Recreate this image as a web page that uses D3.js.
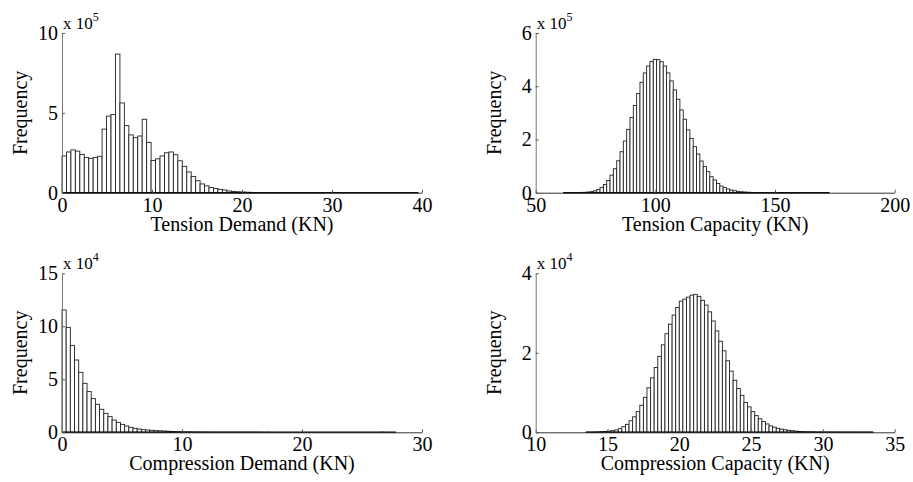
<!DOCTYPE html>
<html>
<head>
<meta charset="utf-8">
<script src="https://cdn.jsdelivr.net/npm/d3@7"></script>
</head>
<body style="margin:0">
<script>
// Tension demand: 80 bins from 0, counts in 1e5
var tdStart = 0, tdWidth = 0.495;
var tdCounts = [2.3, 2.55, 2.68, 2.6, 2.4, 2.2, 2.15, 2.2, 2.28, 3.98,
    4.8, 4.9, 8.68, 5.62, 4.2, 3.62, 3.45, 3.55, 4.6, 3.15,
    2.02, 2.12, 2.3, 2.5, 2.55, 2.38, 2.0, 1.65, 1.3, 1.02,
    0.75, 0.55, 0.43, 0.32, 0.26, 0.21, 0.17, 0.11, 0.08, 0.06,
    0.04, 0.03, 0.02, 0.015, 0.01, 0.008, 0.006, 0.005, 0.004, 0.003,
    0.002, 0.002, 0.001, 0.001, 0.001, 0.001, 0.001, 0, 0.001, 0,
    0, 0, 0, 0, 0, 0, 0, 0, 0, 0,
    0, 0, 0, 0, 0, 0, 0, 0, 0, 0];
var tdXTicks = [0, 10, 20, 30, 40];
var tdYTicks = [0, 5, 10];

// Tension capacity: counts in 1e5
var tcStart = 61.6, tcWidth = 1.39;
var tcCounts = [0.005, 0, 0.003, 0.005, 0.008, 0.01, 0.015, 0.025,
    0.04, 0.07, 0.12, 0.2, 0.31, 0.46, 0.66, 0.9, 1.2, 1.54, 1.94, 2.38, 2.83, 3.28, 3.73, 4.15,
    4.5, 4.76, 4.93, 5.01, 5.0, 4.92, 4.76, 4.5,
    4.2, 3.86, 3.51, 3.11, 2.76, 2.36, 2.04, 1.73, 1.45, 1.19, 0.98, 0.79, 0.6, 0.48,
    0.35, 0.25, 0.19, 0.14, 0.1, 0.075, 0.05, 0.035, 0.025, 0.018, 0.012, 0.008, 0.006, 0.004,
    0.003, 0.003, 0.002, 0.002, 0.001, 0.001, 0.001, 0.001, 0, 0.001,
    0, 0, 0, 0, 0, 0, 0, 0, 0.01, 0];
var tcXTicks = [50, 100, 150, 200];
var tcYTicks = [0, 2, 4, 6];

// Compression demand: counts in 1e4
var cdStart = 0, cdWidth = 0.348;
var cdCounts = [11.54, 9.9, 8.2, 6.82, 5.66, 4.62, 3.84, 3.18, 2.64, 2.17,
    1.79, 1.48, 1.16, 0.94, 0.75, 0.6, 0.47, 0.38, 0.31, 0.25,
    0.22, 0.19, 0.16, 0.14, 0.12, 0.1, 0.08, 0.06, 0.05, 0.04,
    0.03, 0.025, 0.02, 0.015, 0.01, 0.008, 0.006, 0.005, 0.004, 0.003,
    0.002, 0.002, 0.002, 0.001, 0.001, 0.001, 0.001, 0.001, 0, 0.001,
    0, 0, 0, 0, 0, 0, 0, 0, 0, 0,
    0, 0, 0, 0, 0, 0, 0, 0, 0, 0,
    0, 0, 0, 0, 0, 0, 0.005, 0, 0, 0];
var cdXTicks = [0, 10, 20, 30];
var cdYTicks = [0, 5, 10, 15];

// Compression capacity: counts in 1e4
var ccStart = 13.5, ccWidth = 0.25;
var ccCounts = [0.002, 0.003, 0.005, 0.01, 0.015, 0.02,
    0.03, 0.04, 0.06, 0.09, 0.14, 0.2, 0.29, 0.39, 0.52, 0.68,
    0.88, 1.12, 1.37, 1.63, 1.91, 2.2, 2.48, 2.72, 2.95, 3.14,
    3.3, 3.35, 3.4, 3.45,
    3.47, 3.42, 3.32, 3.2, 3.03, 2.8, 2.55, 2.29, 2.05, 1.8,
    1.54, 1.31, 1.1, 0.93, 0.75, 0.64, 0.52, 0.42, 0.34, 0.27,
    0.21, 0.16, 0.13, 0.1, 0.08, 0.063, 0.05, 0.04, 0.03, 0.02,
    0.015, 0.012, 0.01, 0.008, 0.006, 0.005, 0.004, 0.003, 0.003, 0.002,
    0.002, 0.002, 0.001, 0.001, 0.002, 0.001, 0.001, 0.001, 0.001, 0.001];
var ccXTicks = [10, 15, 20, 25, 30, 35];
var ccYTicks = [0, 2, 4];

var w = 913;
var h = 482;

var svg = d3.select("body")
    .append("svg")
    .attr("width", w)
    .attr("height", h)
    .style("display", "block");

// one histogram panel per block
drawHist({
    left: 62, right: 422, top: 33, bottom: 192.7,
    start: tdStart, width: tdWidth, counts: tdCounts,
    xTicks: tdXTicks, yTicks: tdYTicks, exp: "5",
    xLabel: "Tension Demand (KN)"
});
drawHist({
    left: 535.7, right: 894.7, top: 33, bottom: 192.7,
    start: tcStart, width: tcWidth, counts: tcCounts,
    xTicks: tcXTicks, yTicks: tcYTicks, exp: "5",
    xLabel: "Tension Capacity (KN)"
});
drawHist({
    left: 62, right: 422, top: 273.3, bottom: 432.3,
    start: cdStart, width: cdWidth, counts: cdCounts,
    xTicks: cdXTicks, yTicks: cdYTicks, exp: "4",
    xLabel: "Compression Demand (KN)"
});
drawHist({
    left: 535.7, right: 894.7, top: 273.3, bottom: 432.3,
    start: ccStart, width: ccWidth, counts: ccCounts,
    xTicks: ccXTicks, yTicks: ccYTicks, exp: "4",
    xLabel: "Compression Capacity (KN)"
});

function serifText(sel, size) {
    return sel.style("font-family", "'Liberation Serif'")
        .style("font-size", size + "px")
        .attr("fill", "#000");
}

function drawHist(p) {
    var xTicks = p.xTicks, yTicks = p.yTicks;

    var xScale = d3.scaleLinear()
        .domain([xTicks[0], xTicks[xTicks.length - 1]])
        .range([p.left, p.right]);

    var yScale = d3.scaleLinear()
        .domain([yTicks[0], yTicks[yTicks.length - 1]])
        .range([p.bottom, p.top]);

    var bins = p.counts.map((c, i) => ({
        x0: p.start + i * p.width,
        x1: p.start + (i + 1) * p.width,
        value: c
    }));

    // bars
    svg.append("g")
        .selectAll("rect")
        .data(bins.filter(d => d.value > 0))
        .enter()
        .append("rect")
        .attr("x", d => xScale(d.x0))
        .attr("width", d => xScale(d.x1) - xScale(d.x0))
        .attr("y", d => yScale(d.value))
        .attr("height", d => yScale(0) - yScale(d.value))
        .attr("fill", "#fff")
        .attr("stroke", "#222")
        .attr("stroke-width", 0.9);

    // heavy baseline under the bins
    svg.append("line")
        .attr("x1", xScale(bins[0].x0))
        .attr("x2", xScale(bins[bins.length - 1].x1))
        .attr("y1", yScale(0))
        .attr("y2", yScale(0))
        .attr("stroke", "#000")
        .attr("stroke-width", 1.5);

    var xAxis = d3.axisBottom(xScale)
        .tickValues(xTicks)
        .tickFormat(d3.format("d"))
        .tickSizeInner(-3)
        .tickSizeOuter(0)
        .tickPadding(5);

    var yAxis = d3.axisLeft(yScale)
        .tickValues(yTicks)
        .tickFormat(d3.format("d"))
        .tickSizeInner(-3)
        .tickSizeOuter(0)
        .tickPadding(4);

    var gx = svg.append("g")
        .attr("transform", `translate(0, ${p.bottom})`)
        .call(xAxis);

    var gy = svg.append("g")
        .attr("transform", `translate(${p.left}, 0)`)
        .call(yAxis);

    gx.select(".domain").attr("stroke", "#333");
    gy.select(".domain").attr("stroke", "#777");
    gx.selectAll(".tick line").attr("stroke", "#555");
    gy.selectAll(".tick line").attr("stroke", "#555");
    serifText(gx.selectAll("text"), 20);
    serifText(gy.selectAll("text"), 20);

    // exponent label
    var ex = serifText(svg.append("text"), 17)
        .attr("x", p.left + 1)
        .attr("y", p.top - 4);
    ex.append("tspan").text("x 10");
    ex.append("tspan")
        .attr("dy", -8)
        .style("font-size", "12px")
        .text(p.exp);

    // x axis label
    serifText(svg.append("text"), 20)
        .attr("x", (p.left + p.right) / 2)
        .attr("y", p.bottom + 38)
        .attr("text-anchor", "middle")
        .text(p.xLabel);

    // y axis label
    serifText(svg.append("text"), 20)
        .attr("transform", `translate(${p.left - 35}, ${(p.top + p.bottom) / 2}) rotate(-90)`)
        .attr("text-anchor", "middle")
        .text("Frequency");
}
</script>
</body>
</html>
